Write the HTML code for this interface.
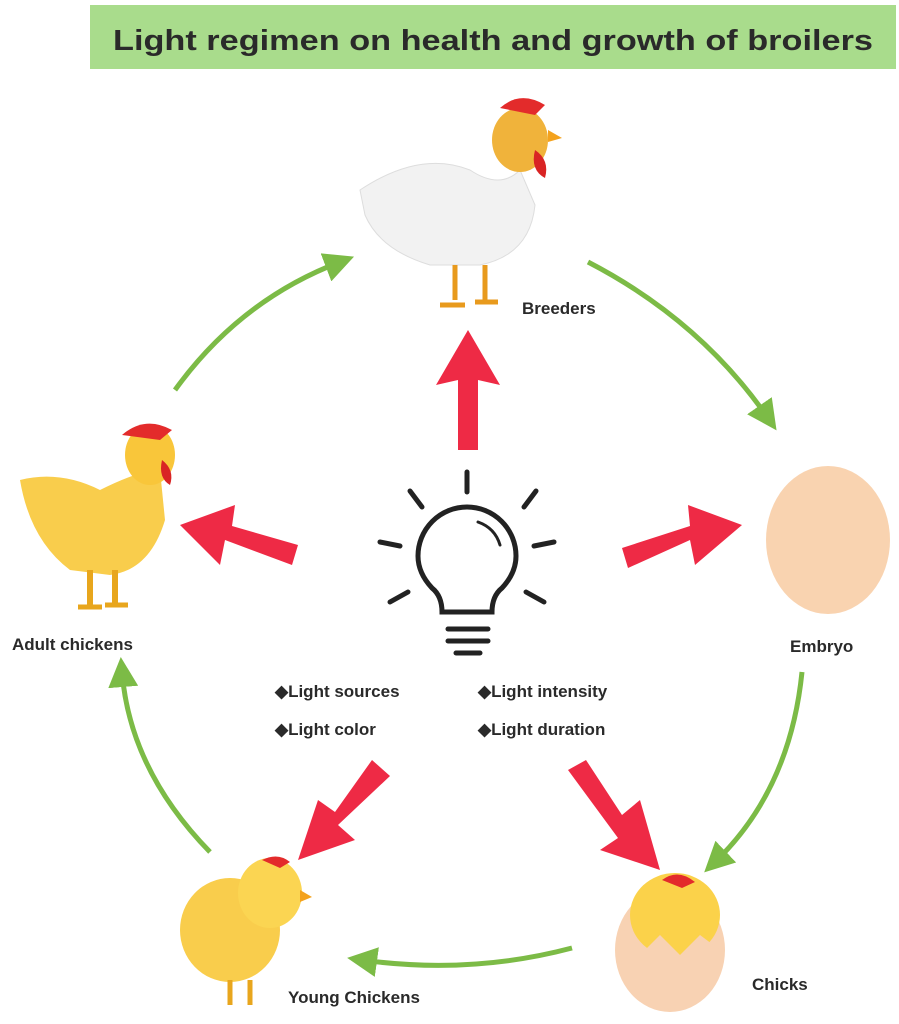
<!DOCTYPE html>
<html><head><meta charset="utf-8"><style>
html,body{margin:0;padding:0;background:#fff;width:899px;height:1024px;overflow:hidden}
svg{display:block}
text{font-family:"Liberation Sans",sans-serif;font-weight:bold;fill:#2a2a2a}
</style></head><body>
<svg width="899" height="1024" viewBox="0 0 899 1024" xmlns="http://www.w3.org/2000/svg">
<defs>
<marker id="ga" markerWidth="6" markerHeight="6" refX="3" refY="3" orient="auto" markerUnits="strokeWidth"><path d="M0,0 L6,3 L0,6 z" fill="#7cbb46"/></marker>
</defs>
<rect x="90" y="5" width="806" height="64" fill="#a9dc8c"/>
<text x="493" y="50" font-size="29" text-anchor="middle" textLength="760" lengthAdjust="spacingAndGlyphs">Light regimen on health and growth of broilers</text>

<!-- green arcs -->
<g fill="none" stroke="#7cbb46" stroke-width="5" marker-end="url(#ga)">
<path d="M175,390 Q240,300 340,262"/>
<path d="M588,262 Q700,320 768,418"/>
<path d="M802,672 Q790,790 715,862"/>
<path d="M572,948 Q470,975 362,960"/>
<path d="M210,852 Q130,770 122,672"/>
</g>

<!-- red arrows -->
<g fill="#ee2a45">
<polygon points="458,450 478,450 478,380 500,385 468,330 436,385 458,380"/>
<polygon points="298,545 292,565 225,540 220,565 180,525 235,505 232,526"/>
<polygon points="622,548 628,568 690,540 695,565 742,525 688,505 690,526"/>
<polygon points="372,760 390,776 338,825 355,840 298,860 318,800 335,812"/>
<polygon points="568,770 586,760 622,815 640,800 660,870 600,850 618,838"/>
</g>

<!-- bulb -->
<g fill="none" stroke="#222" stroke-width="5" stroke-linecap="round">
<path d="M442,612 Q442,596 432,588 Q418,573 418,556 A49,49 0 1 1 516,556 Q516,573 502,588 Q492,596 492,612 Z"/>
<path d="M478,522 Q495,528 500,545" stroke-width="3"/>
<line x1="448" y1="629" x2="488" y2="629"/>
<line x1="448" y1="641" x2="488" y2="641"/>
<line x1="456" y1="653" x2="480" y2="653"/>
<line x1="467" y1="472" x2="467" y2="492"/>
<line x1="410" y1="491" x2="422" y2="507"/>
<line x1="524" y1="507" x2="536" y2="491"/>
<line x1="380" y1="542" x2="400" y2="546"/>
<line x1="534" y1="546" x2="554" y2="542"/>
<line x1="390" y1="602" x2="408" y2="592"/>
<line x1="526" y1="592" x2="544" y2="602"/>
</g>

<!-- breeder (white hen) -->
<g>
<path d="M360,190 Q420,150 470,170 Q500,190 520,170 L535,205 Q530,255 480,265 L430,265 Q380,250 365,215 Z" fill="#f2f2f2" stroke="#ddd"/>
<ellipse cx="520" cy="140" rx="28" ry="32" fill="#f0b33b"/>
<path d="M500,108 Q520,90 545,105 L535,115 Z" fill="#e32b2b"/>
<path d="M535,150 Q550,160 545,178 Q530,170 535,150" fill="#d92424"/>
<polygon points="548,130 562,138 548,142" fill="#f4a21d"/>
<path d="M455,265 L455,300 M485,265 L485,300" stroke="#e89a1d" stroke-width="5"/>
<path d="M440,305 L465,305 M475,302 L498,302" stroke="#e89a1d" stroke-width="5"/>
</g>
<text x="522" y="314" font-size="17">Breeders</text>

<!-- egg -->
<ellipse cx="828" cy="540" rx="62" ry="74" fill="#f9d3b0"/>
<text x="790" y="652" font-size="17">Embryo</text>

<!-- adult chicken -->
<g>
<path d="M20,480 Q60,470 100,490 Q140,470 160,470 L165,520 Q150,570 110,575 L70,570 Q30,540 20,480 Z" fill="#f9cd4c"/>
<ellipse cx="150" cy="455" rx="25" ry="30" fill="#f9c63a"/>
<path d="M122,435 Q145,415 172,430 L160,440 Z" fill="#e32b2b"/>
<path d="M162,460 Q175,470 170,485 Q158,478 162,460" fill="#d92424"/>
<path d="M90,570 L90,605 M115,570 L115,605" stroke="#e8a61d" stroke-width="6"/>
<path d="M78,607 L102,607 M105,605 L128,605" stroke="#e8a61d" stroke-width="5"/>
</g>
<text x="12" y="650" font-size="17">Adult chickens</text>

<!-- bullets -->
<text font-size="17">
<tspan x="275" y="697">◆Light sources</tspan>
<tspan x="478" y="697">◆Light intensity</tspan>
<tspan x="275" y="735">◆Light color</tspan>
<tspan x="478" y="735">◆Light duration</tspan>
</text>

<!-- young chicken -->
<g>
<ellipse cx="230" cy="930" rx="50" ry="52" fill="#f9cd4c"/>
<ellipse cx="270" cy="893" rx="32" ry="35" fill="#fbd552"/>
<path d="M262,860 Q278,852 290,862 L280,868 Z" fill="#e32b2b"/>
<polygon points="300,890 312,897 300,902" fill="#f4a21d"/>
<path d="M230,980 L230,1005 M250,980 L250,1005" stroke="#e8a61d" stroke-width="5"/>
</g>
<text x="288" y="1003" font-size="17">Young Chickens</text>

<!-- chick in egg -->
<g>
<ellipse cx="670" cy="950" rx="55" ry="62" fill="#f8d2b3"/>
<ellipse cx="675" cy="915" rx="45" ry="42" fill="#fbd24a"/>
<path d="M662,880 Q678,868 695,882 L682,888 Z" fill="#e32b2b"/>
<path d="M625,930 L645,950 L660,935 L680,955 L700,935 L720,950 L722,940 Q720,990 670,1010 Q622,990 618,945 Z" fill="#f8d2b3"/>
</g>
<text x="752" y="990" font-size="17">Chicks</text>
</svg>
</body></html>
